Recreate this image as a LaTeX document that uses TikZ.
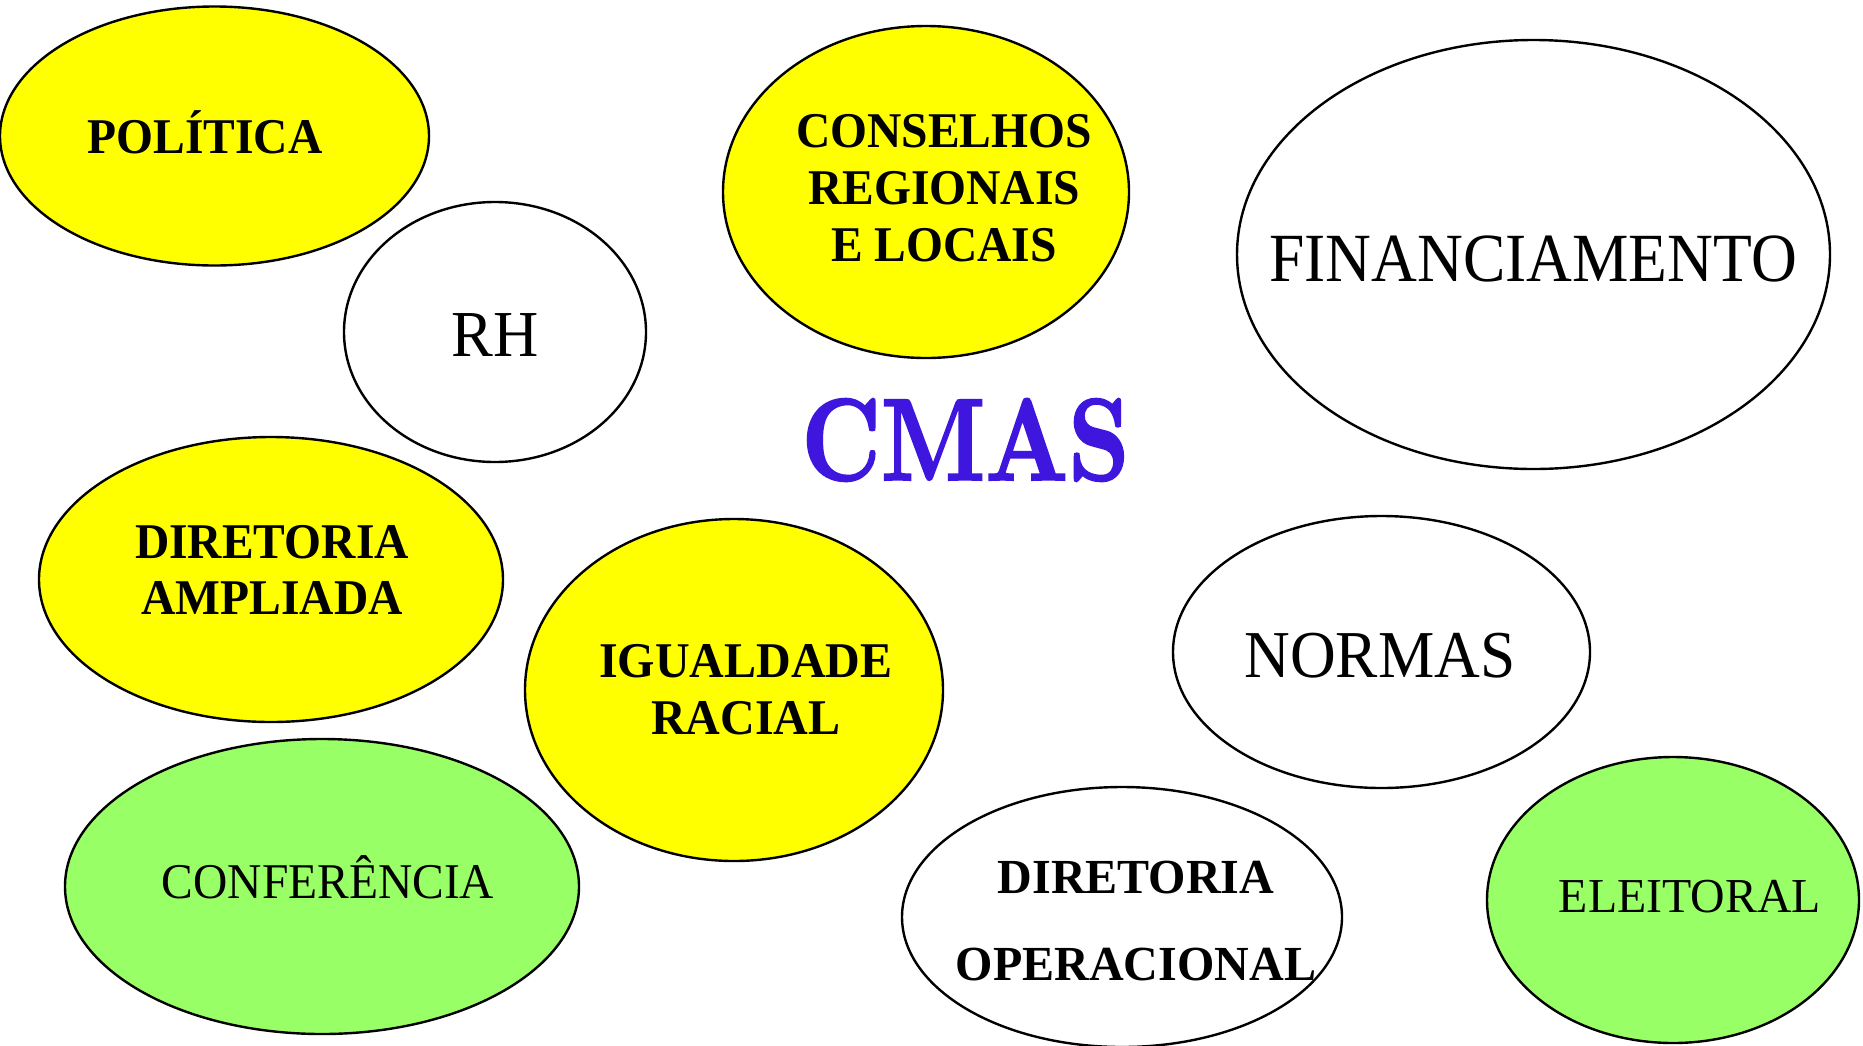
\documentclass[tikz,border=0pt]{standalone}
\usepackage{fontspec}
\usepackage{graphicx}
\newfontfamily\tms{Liberation Serif}
\newfontfamily\cmbx[FakeBold=1.8]{lmroman10-bold.otf}
\usetikzlibrary{shapes.geometric}
\definecolor{yel}{HTML}{FFFF00}
\definecolor{grn}{HTML}{99FF66}
\definecolor{cmasblue}{HTML}{3F16DE}
\newcommand{\sqz}[2]{\scalebox{#1}[1]{#2}}
\tikzset{
  bub/.style={ellipse, draw=black, line width=2.4pt, inner sep=0pt, outer sep=0pt},
  ybub/.style={bub, fill=yel},
  gbub/.style={bub, fill=grn},
  wbub/.style={bub, fill=white},
  lbl/.style={anchor=base, inner sep=0pt, text=black},
  bfl/.style={lbl, font=\tms\bfseries\fontsize{50}{56}\selectfont},
}
\begin{document}
\begin{tikzpicture}[x=1pt,y=-1pt]
\useasboundingbox (0,0) rectangle (1863,1045);
\clip (0,0) rectangle (1863,1045);
\fill[white] (0,0) rectangle (1863,1045);
% ellipses
\node[ybub, minimum width=429pt, minimum height=259pt] (pol) at (214.5,136) {};
\node[wbub, minimum width=302pt, minimum height=260pt] (rh) at (495,332) {};
\node[ybub, minimum width=406pt, minimum height=332pt] (cons) at (926,192) {};
\node[wbub, minimum width=593pt, minimum height=429pt] (fin) at (1533.5,254.5) {};
\node[ybub, minimum width=464pt, minimum height=285pt] (dira) at (271,579.5) {};
\node[ybub, minimum width=418pt, minimum height=342pt] (igu) at (734,690) {};
\node[wbub, minimum width=417pt, minimum height=272pt] (nor) at (1381.5,652) {};
\node[gbub, minimum width=514pt, minimum height=295pt] (conf) at (322,886.5) {};
\node[wbub, minimum width=440pt, minimum height=260pt] (diro) at (1122,917) {};
\node[gbub, minimum width=372pt, minimum height=286pt] (ele) at (1673,900) {};
% texts
\node[bfl] (tpol) at (205,153) {\sqz{0.95}{POLÍTICA}};
\node[lbl, font=\tms\fontsize{65.6}{70}\selectfont] (trh) at (495,356) {\sqz{0.955}{RH}};
\node[bfl] (tcons1) at (944,147) {\sqz{0.95}{CONSELHOS}};
\node[bfl] (tcons2) at (944,204) {\sqz{0.95}{REGIONAIS}};
\node[bfl] (tcons3) at (944,261) {\sqz{0.95}{E LOCAIS}};
\node[lbl, font=\tms\fontsize{69}{74}\selectfont] (tfin) at (1533,281) {\sqz{0.92}{FINANCIAMENTO}};
\node[lbl, font=\cmbx\fontsize{116.6}{120}\selectfont, text=cmasblue] (tcmas) at (965.5,480) {\sqz{0.82}{CMAS}};
\node[bfl] (tdira1) at (272,558) {\sqz{0.95}{DIRETORIA}};
\node[bfl] (tdira2) at (272,614) {\sqz{0.95}{AMPLIADA}};
\node[bfl] (tigu1) at (746,677) {\sqz{0.96}{IGUALDADE}};
\node[bfl] (tigu2) at (746,734) {\sqz{0.96}{RACIAL}};
\node[lbl, font=\tms\fontsize{67}{72}\selectfont] (tnor) at (1380,677) {\sqz{0.945}{NORMAS}};
\node[lbl, font=\tms\fontsize{50}{56}\selectfont] (tconf) at (328,898) {\sqz{0.95}{CONFERÊNCIA}};
\node[lbl, font=\tms\bfseries\fontsize{49}{55}\selectfont] (tdiro1) at (1136,893) {\sqz{0.98}{DIRETORIA}};
\node[lbl, font=\tms\bfseries\fontsize{49}{55}\selectfont] (tdiro2) at (1136,980) {\sqz{0.98}{OPERACIONAL}};
\node[lbl, font=\tms\fontsize{48.8}{54}\selectfont] (tele) at (1690,912) {\sqz{0.98}{ELEITORAL}};
\end{tikzpicture}
\end{document}
